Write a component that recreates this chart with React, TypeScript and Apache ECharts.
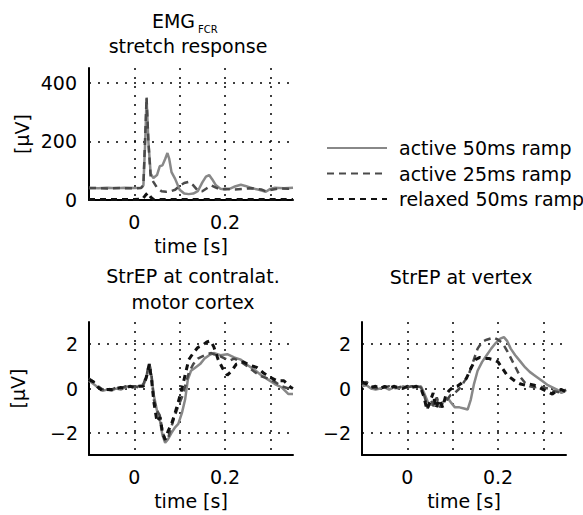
import React, { useEffect, useRef } from 'react';
import * as echarts from 'echarts';

// ---------- data ----------
const seriesNames = ['active 50ms ramp', 'active 25ms ramp', 'relaxed 50ms ramp'];
const xTickLabels: Record<string, string> = { '0': '0', '0.2': '0.2' };
const emgTickLabels: Record<string, string> = { '0': '0', '200': '200', '400': '400' };
const strepTickLabels: Record<string, string> = { '-2': '\u22122', '0': '0', '2': '2' };

// EMG FCR stretch response [µV] vs time [s]
const emgActive50: number[][] = [
  [-0.1, 42], [-0.08, 40], [-0.06, 42], [-0.04, 40], [-0.02, 42], [0, 41], [0.015, 42], [0.02, 50],
  [0.024, 200], [0.027, 345], [0.031, 200], [0.036, 90], [0.042, 75], [0.05, 85], [0.056, 115],
  [0.062, 118], [0.068, 140], [0.073, 160], [0.077, 140], [0.082, 95], [0.09, 72], [0.1, 35],
  [0.11, 22], [0.12, 20], [0.13, 22], [0.14, 30], [0.15, 60], [0.158, 80], [0.165, 85], [0.172, 70],
  [0.18, 50], [0.19, 38], [0.2, 36], [0.21, 38], [0.22, 45], [0.235, 52], [0.245, 48], [0.26, 40],
  [0.275, 35], [0.29, 28], [0.3, 38], [0.31, 42], [0.33, 40], [0.35, 42],
];
const emgActive25: number[][] = [
  [-0.1, 40], [-0.08, 41], [-0.06, 39], [-0.04, 41], [-0.02, 40], [0, 40], [0.015, 41], [0.02, 50],
  [0.024, 220], [0.027, 350], [0.031, 200], [0.036, 80], [0.042, 62], [0.05, 42], [0.06, 30],
  [0.07, 28], [0.08, 30], [0.09, 35], [0.1, 48], [0.11, 58], [0.12, 62], [0.13, 50], [0.14, 32],
  [0.15, 30], [0.16, 40], [0.17, 50], [0.18, 42], [0.19, 36], [0.2, 38], [0.22, 36], [0.24, 38],
  [0.26, 40], [0.28, 36], [0.29, 30], [0.3, 34], [0.32, 40], [0.34, 38], [0.35, 40],
];
const emgRelaxed: number[][] = [
  [-0.1, 2], [0, 2], [0.018, 3], [0.024, 15], [0.03, 25], [0.036, 10], [0.042, 2], [0.1, 2],
  [0.2, 2], [0.35, 2],
];

// StrEP at contralateral motor cortex [µV]
const ctxActive50: number[][] = [
  [-0.1, 0.35], [-0.09, 0.2], [-0.08, 0.05], [-0.07, -0.1], [-0.06, -0.05], [-0.05, -0.1], [-0.04, 0],
  [-0.03, -0.05], [-0.02, 0.05], [-0.01, 0.1], [0, 0.05], [0.01, 0.1], [0.02, 0.15], [0.027, 0.5],
  [0.033, 1.1], [0.038, 0.5], [0.043, -0.3], [0.05, -1.0], [0.056, -1.4], [0.062, -2.1], [0.068, -2.45],
  [0.074, -2.3], [0.082, -2.0], [0.09, -1.75], [0.097, -1.6], [0.105, -1.1], [0.112, -0.5], [0.118, 0.4],
  [0.125, 0.8], [0.135, 0.95], [0.145, 1.1], [0.155, 1.35], [0.165, 1.5], [0.175, 1.6], [0.19, 1.5],
  [0.205, 1.55], [0.22, 1.4], [0.235, 1.3], [0.25, 1.05], [0.265, 0.85], [0.28, 0.6], [0.295, 0.4],
  [0.31, 0.2], [0.325, 0.05], [0.34, -0.25], [0.35, -0.25],
];
const ctxActive25: number[][] = [
  [-0.1, 0.45], [-0.09, 0.3], [-0.08, 0.1], [-0.07, -0.05], [-0.06, 0], [-0.05, -0.05], [-0.04, 0.05],
  [-0.03, 0], [-0.02, 0.1], [-0.01, 0.05], [0, 0.1], [0.01, 0.05], [0.02, 0.2], [0.027, 0.6],
  [0.033, 1.15], [0.038, 0.6], [0.043, -0.5], [0.05, -1.0], [0.056, -1.2], [0.062, -1.9], [0.068, -2.35],
  [0.075, -2.2], [0.085, -1.5], [0.095, -0.9], [0.105, -0.4], [0.112, 0.1], [0.12, 0.7], [0.13, 1.1],
  [0.14, 1.35], [0.15, 1.45], [0.16, 1.55], [0.17, 1.6], [0.18, 1.5], [0.19, 1.45], [0.2, 1.35],
  [0.21, 1.25], [0.22, 1.35], [0.235, 1.2], [0.25, 1.0], [0.265, 0.75], [0.28, 0.55], [0.295, 0.45],
  [0.31, 0.3], [0.325, 0.1], [0.34, 0], [0.35, -0.1],
];
const ctxRelaxed: number[][] = [
  [-0.1, 0.4], [-0.09, 0.3], [-0.08, 0.05], [-0.07, -0.1], [-0.06, -0.05], [-0.05, -0.05], [-0.04, 0],
  [-0.03, 0.05], [-0.02, 0], [-0.01, 0.1], [0, 0.05], [0.01, 0.1], [0.02, 0.1], [0.027, 0.55],
  [0.033, 1.1], [0.038, 0.4], [0.043, -0.6], [0.05, -1.5], [0.057, -1.3], [0.062, -2.0], [0.068, -2.3],
  [0.075, -1.9], [0.082, -1.6], [0.09, -1.1], [0.097, -0.6], [0.105, 0], [0.112, 0.6], [0.12, 1.3],
  [0.13, 1.6], [0.14, 1.85], [0.15, 1.95], [0.16, 2.1], [0.168, 2.15], [0.175, 1.9], [0.185, 1.3],
  [0.195, 0.9], [0.205, 0.6], [0.215, 0.8], [0.225, 1.1], [0.24, 1.2], [0.255, 1.05], [0.27, 0.95],
  [0.285, 0.7], [0.3, 0.5], [0.315, 0.35], [0.33, 0.35], [0.345, 0.05], [0.35, 0],
];

// StrEP at vertex [µV]
const vtxActive50: number[][] = [
  [-0.1, 0.1], [-0.09, 0.15], [-0.08, 0], [-0.07, -0.05], [-0.06, 0], [-0.05, 0.05], [-0.04, -0.05],
  [-0.03, 0.05], [-0.02, 0], [-0.01, 0.1], [0, 0.05], [0.01, 0.1], [0.02, 0.05], [0.03, 0.1],
  [0.037, -0.2], [0.045, -0.6], [0.052, -0.75], [0.06, -0.55], [0.067, -0.8], [0.075, -0.7],
  [0.082, -0.55], [0.09, -0.45], [0.097, -0.65], [0.105, -0.85], [0.115, -0.85], [0.125, -0.9],
  [0.133, -0.95], [0.14, -0.5], [0.147, 0.2], [0.155, 0.8], [0.165, 1.2], [0.175, 1.5], [0.185, 1.8],
  [0.195, 2.05], [0.205, 2.25], [0.213, 2.32], [0.22, 2.15], [0.228, 1.8], [0.238, 1.5], [0.25, 1.2],
  [0.26, 0.95], [0.27, 0.75], [0.28, 0.6], [0.29, 0.45], [0.3, 0.3], [0.31, 0.15], [0.32, 0.05],
  [0.33, -0.05], [0.34, -0.2], [0.35, -0.1],
];
const vtxActive25: number[][] = [
  [-0.1, 0.2], [-0.09, 0.3], [-0.08, 0.1], [-0.07, 0], [-0.06, 0.05], [-0.05, 0.05], [-0.04, 0.1],
  [-0.03, 0], [-0.02, 0.05], [-0.01, 0.1], [0, 0.05], [0.01, 0.1], [0.02, 0.1], [0.03, 0.05],
  [0.037, -0.3], [0.045, -0.9], [0.052, -0.5], [0.058, -0.8], [0.065, -0.4], [0.072, -0.85],
  [0.08, -0.6], [0.088, -0.5], [0.095, -0.3], [0.105, -0.2], [0.115, 0], [0.125, 0.3], [0.135, 0.6],
  [0.145, 1.2], [0.155, 1.8], [0.165, 2.1], [0.175, 2.2], [0.19, 2.3], [0.2, 2.2], [0.21, 2.05],
  [0.22, 1.7], [0.23, 1.3], [0.24, 0.9], [0.25, 0.5], [0.26, 0.25], [0.27, 0.1], [0.28, 0.05],
  [0.29, 0.1], [0.3, 0.05], [0.31, 0], [0.32, -0.1], [0.33, -0.15], [0.34, -0.2], [0.35, -0.05],
];
const vtxRelaxed: number[][] = [
  [-0.1, 0.3], [-0.09, 0.2], [-0.08, 0.05], [-0.07, 0.1], [-0.06, 0], [-0.05, 0.1], [-0.04, 0],
  [-0.03, 0.1], [-0.02, 0.05], [-0.01, 0], [0, 0.1], [0.01, 0.05], [0.02, 0.1], [0.03, 0],
  [0.037, -0.4], [0.043, -0.95], [0.05, -0.6], [0.057, -0.2], [0.063, -0.9], [0.07, -0.5],
  [0.078, -0.85], [0.085, -0.3], [0.092, -0.1], [0.1, 0.05], [0.11, 0.1], [0.12, 0.25], [0.13, 0.45],
  [0.14, 0.9], [0.15, 1.3], [0.16, 1.4], [0.17, 1.35], [0.18, 1.35], [0.19, 1.3], [0.2, 1.2],
  [0.21, 0.9], [0.22, 0.6], [0.23, 0.45], [0.24, 0.3], [0.25, 0.2], [0.26, 0.15], [0.27, 0.2],
  [0.28, 0.15], [0.29, 0.05], [0.3, -0.05], [0.31, -0.15], [0.32, -0.25], [0.33, -0.1], [0.34, -0.05],
  [0.35, -0.15],
];

// ---------- styling ----------
const FONT = 'DejaVu Sans';
const FS = 19;
const T = 'rgba(0,0,0,0)';
const K = '#000';
const gridDots = { type: [2, 7] as number[], width: 1.5 };

const lineStyles = [
  { color: '#888888', width: 2.5, type: 'solid' as any },
  { color: '#4a4a4a', width: 2.5, type: [7, 5] as any },
  { color: '#111111', width: 3, type: [6, 5] as any },
];

function fmt(map: Record<string, string>) {
  return (v: number) => {
    const key = String(Math.round(v * 1000) / 1000);
    return map[key] ?? '';
  };
}

function xAxisFor(gridIndex: number) {
  return {
    type: 'value', gridIndex, min: -0.1, max: 0.35, interval: 0.1,
    axisLine: { onZero: false, lineStyle: { color: K, width: 2 } },
    axisTick: { show: false },
    axisLabel: { margin: 12, color: K, fontSize: FS, fontFamily: FONT, formatter: fmt(xTickLabels) },
    splitLine: { show: true, lineStyle: { ...gridDots, color: [T, K, K, K, K, T] } },
    name: 'time [s]', nameLocation: 'middle', nameGap: 36,
    nameTextStyle: { color: K, fontSize: FS, fontFamily: FONT },
  };
}

function strepYAxis(gridIndex: number, withName: boolean) {
  return {
    type: 'value', gridIndex, min: -3, max: 3, interval: 1,
    axisLine: { show: true, onZero: false, lineStyle: { color: K, width: 2 } },
    axisTick: { show: false },
    axisLabel: { margin: 11, color: K, fontSize: FS, fontFamily: FONT, formatter: fmt(strepTickLabels) },
    splitLine: { show: true, lineStyle: { ...gridDots, color: [T, K, T, K, T, K, T] } },
    name: withName ? '[\u03bcV]' : '', nameLocation: 'middle', nameGap: 62,
    nameTextStyle: { color: K, fontSize: FS, fontFamily: FONT },
  };
}

function mkSeries(data: number[][][], xi: number) {
  return data.map((d, i) => ({
    name: seriesNames[i], type: 'line', xAxisIndex: xi, yAxisIndex: xi, data: d,
    symbol: 'none', showSymbol: false, lineStyle: lineStyles[i], itemStyle: { color: lineStyles[i].color },
    emphasis: { disabled: true }, silent: true, z: 2 + i,
  }));
}

function txt(text: string, x: number, y: number, fontSize = FS, align = 'center') {
  return {
    type: 'text', x, y, silent: true,
    style: { text, fontSize, fontFamily: FONT, fill: K, align, verticalAlign: 'middle' },
  };
}

export default function App() {
  const ref = useRef<HTMLDivElement>(null);
  useEffect(() => {
    if (!ref.current) return;
    const chart = echarts.init(ref.current, null, { renderer: 'svg' });
    chart.setOption({
      animation: false,
      backgroundColor: '#fff',
      grid: [
        { left: 89, top: 68, width: 204, height: 132 },
        { left: 89, top: 322, width: 204, height: 133 },
        { left: 362, top: 322, width: 204, height: 133 },
      ],
      xAxis: [xAxisFor(0), xAxisFor(1), xAxisFor(2)],
      yAxis: [
        {
          type: 'value', gridIndex: 0, min: 0, max: 450, interval: 200,
          axisLine: { show: true, onZero: false, lineStyle: { color: K, width: 2 } },
          axisTick: { show: false },
          axisLabel: { margin: 12, color: K, fontSize: FS, fontFamily: FONT, formatter: fmt(emgTickLabels) },
          splitLine: { show: true, lineStyle: { ...gridDots, color: [T, K, K, T] } },
          name: '[\u03bcV]', nameLocation: 'middle', nameGap: 58,
          nameTextStyle: { color: K, fontSize: FS, fontFamily: FONT },
        },
        strepYAxis(1, true),
        strepYAxis(2, false),
      ],
      legend: {
        orient: 'vertical', left: 326, top: 138, padding: 0,
        itemWidth: 60, itemHeight: 14, itemGap: 5.5,
        data: seriesNames,
        selectedMode: false,
        itemStyle: { opacity: 0, borderWidth: 0 },
        textStyle: { color: K, fontSize: FS, fontFamily: FONT, lineHeight: 20, padding: [0, 0, 0, 7] },
      },
      graphic: [
        txt('EMG', 195, 21, FS, 'right'),
        txt('FCR', 198, 29.5, 10, 'left'),
        txt('stretch response', 188, 46),
        txt('StrEP at contralat.', 193, 276),
        txt('motor cortex', 193, 302),
        txt('StrEP at vertex', 461, 277),
      ],
      series: [
        ...mkSeries([emgActive50, emgActive25, emgRelaxed], 0),
        ...mkSeries([ctxActive50, ctxActive25, ctxRelaxed], 1),
        ...mkSeries([vtxActive50, vtxActive25, vtxRelaxed], 2),
      ],
    });
    return () => chart.dispose();
  }, []);
  return <div ref={ref} style={{ position: 'absolute', left: 0, top: 0, width: 583, height: 515 }} />;
}
